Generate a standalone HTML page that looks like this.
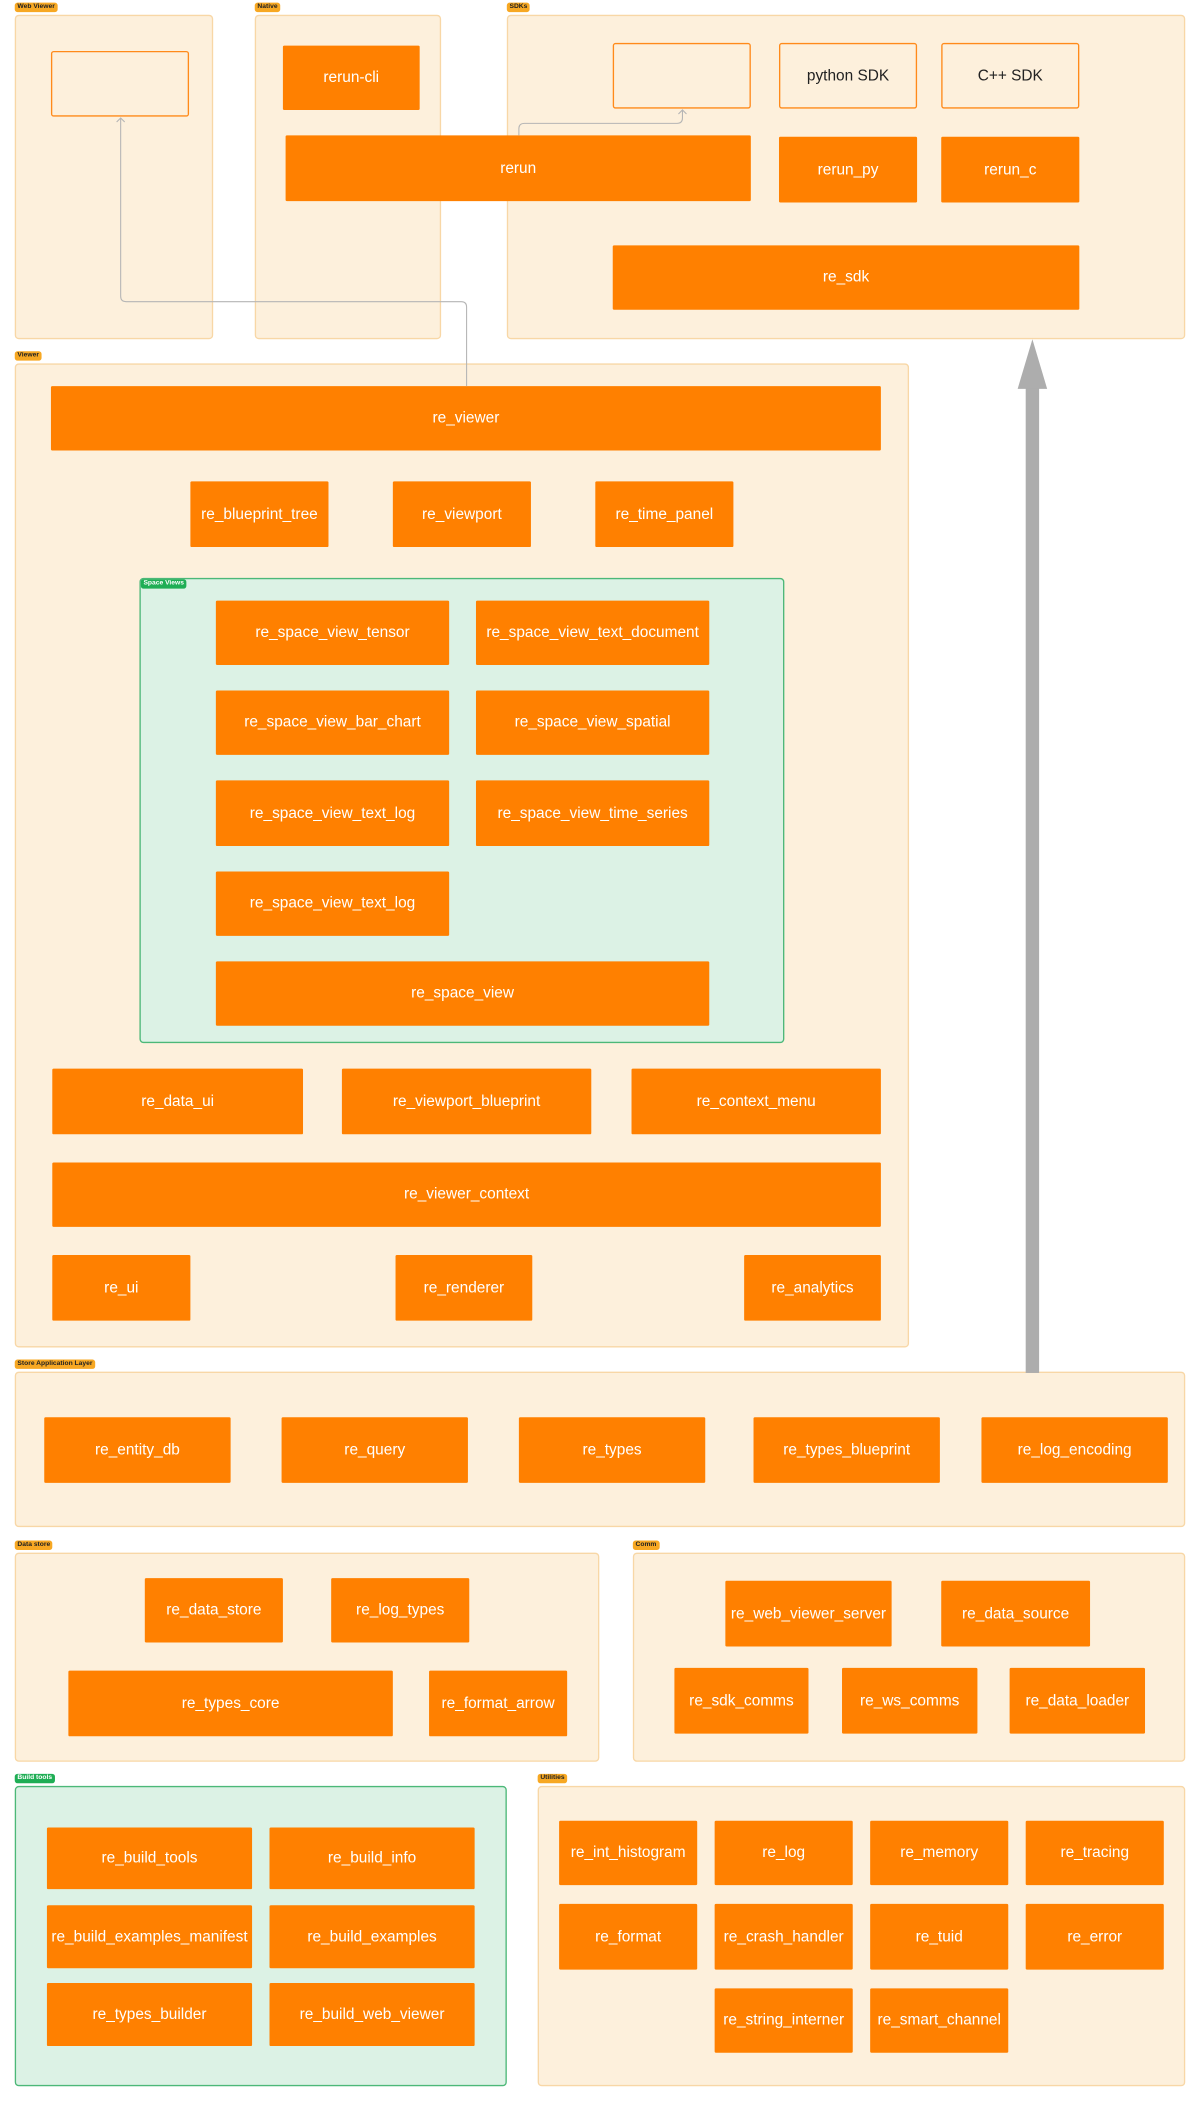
<!DOCTYPE html>
<html><head><meta charset="utf-8"><style>
html,body{margin:0;padding:0;background:#fff;width:1200px;height:2100px;overflow:hidden}
#w{position:absolute;left:0;top:0;width:895px;height:1568px;transform:scale(1.34078);transform-origin:0 0;font-family:"Liberation Sans",sans-serif}
.f{position:absolute;background:#fdf0dc;border:1px solid #f8d7a6;border-radius:3px;box-sizing:border-box}
.g{background:#dcf2e5;border:1px solid #4cb878}
.l{position:absolute;background:#f7a823;color:#222;font-size:5px;line-height:7px;padding:0 2px;border-radius:2px;font-weight:bold}
.lg{background:#1fae55;color:#fff}
.b{position:absolute;background:#ff8000;color:#fff;font-size:11.5px;display:flex;align-items:center;justify-content:center;border-radius:1px;white-space:nowrap}
.o{position:absolute;border:1.3px solid #ff8a1a;box-sizing:border-box;border-radius:2px;color:#222;font-size:11.5px;display:flex;align-items:center;justify-content:center;background:#fdf0dc}
</style></head><body><div id="w">
<div class="l" style="left:11px;top:2px">Web Viewer</div>
<div class="f" style="left:11px;top:11px;width:148px;height:242px"></div>
<div class="o" style="left:38px;top:38px;width:103px;height:49px"></div>
<div class="l" style="left:190px;top:2px">Native</div>
<div class="f" style="left:190px;top:11px;width:139px;height:242px"></div>
<div class="b" style="left:211px;top:34px;width:102px;height:48px">rerun-cli</div>
<div class="l" style="left:378px;top:2px">SDKs</div>
<div class="f" style="left:378px;top:11px;width:506px;height:242px"></div>
<div class="o" style="left:457px;top:32px;width:103px;height:49px"></div>
<div class="o" style="left:581px;top:32px;width:103px;height:49px">python SDK</div>
<div class="o" style="left:702px;top:32px;width:103px;height:49px">C++ SDK</div>
<div class="b" style="left:213px;top:101px;width:347px;height:49px">rerun</div>
<div class="b" style="left:581px;top:102px;width:103px;height:49px">rerun_py</div>
<div class="b" style="left:702px;top:102px;width:103px;height:49px">rerun_c</div>
<div class="b" style="left:457px;top:183px;width:348px;height:48px">re_sdk</div>

<div class="l" style="left:11px;top:262px">Viewer</div>
<div class="f" style="left:11px;top:271px;width:667px;height:734px"></div>
<div class="b" style="left:38px;top:288px;width:619px;height:48px">re_viewer</div>
<div class="b" style="left:142px;top:359px;width:103px;height:49px">re_blueprint_tree</div>
<div class="b" style="left:293px;top:359px;width:103px;height:49px">re_viewport</div>
<div class="b" style="left:444px;top:359px;width:103px;height:49px">re_time_panel</div>
<div class="f g" style="left:104px;top:431px;width:481px;height:347px"></div>
<div class="l lg" style="left:105px;top:432px">Space Views</div>
<div class="b" style="left:161px;top:448px;width:174px;height:48px">re_space_view_tensor</div>
<div class="b" style="left:355px;top:448px;width:174px;height:48px">re_space_view_text_document</div>
<div class="b" style="left:161px;top:515px;width:174px;height:48px">re_space_view_bar_chart</div>
<div class="b" style="left:355px;top:515px;width:174px;height:48px">re_space_view_spatial</div>
<div class="b" style="left:161px;top:582px;width:174px;height:49px">re_space_view_text_log</div>
<div class="b" style="left:355px;top:582px;width:174px;height:49px">re_space_view_time_series</div>
<div class="b" style="left:161px;top:650px;width:174px;height:48px">re_space_view_text_log</div>
<div class="b" style="left:161px;top:717px;width:368px;height:48px">re_space_view</div>
<div class="b" style="left:39px;top:797px;width:187px;height:49px">re_data_ui</div>
<div class="b" style="left:255px;top:797px;width:186px;height:49px">re_viewport_blueprint</div>
<div class="b" style="left:471px;top:797px;width:186px;height:49px">re_context_menu</div>
<div class="b" style="left:39px;top:867px;width:618px;height:48px">re_viewer_context</div>
<div class="b" style="left:39px;top:936px;width:103px;height:49px">re_ui</div>
<div class="b" style="left:295px;top:936px;width:102px;height:49px">re_renderer</div>
<div class="b" style="left:555px;top:936px;width:102px;height:49px">re_analytics</div>

<div class="l" style="left:11px;top:1014px">Store Application Layer</div>
<div class="f" style="left:11px;top:1023px;width:873px;height:116px"></div>
<div class="b" style="left:33px;top:1057px;width:139px;height:49px">re_entity_db</div>
<div class="b" style="left:210px;top:1057px;width:139px;height:49px">re_query</div>
<div class="b" style="left:387px;top:1057px;width:139px;height:49px">re_types</div>
<div class="b" style="left:562px;top:1057px;width:139px;height:49px">re_types_blueprint</div>
<div class="b" style="left:732px;top:1057px;width:139px;height:49px">re_log_encoding</div>

<div class="l" style="left:11px;top:1149px">Data store</div>
<div class="f" style="left:11px;top:1158px;width:436px;height:156px"></div>
<div class="b" style="left:108px;top:1177px;width:103px;height:48px">re_data_store</div>
<div class="b" style="left:247px;top:1177px;width:103px;height:48px">re_log_types</div>
<div class="b" style="left:51px;top:1246px;width:242px;height:49px">re_types_core</div>
<div class="b" style="left:320px;top:1246px;width:103px;height:49px">re_format_arrow</div>

<div class="l" style="left:472px;top:1149px">Comm</div>
<div class="f" style="left:472px;top:1158px;width:412px;height:156px"></div>
<div class="b" style="left:541px;top:1179px;width:124px;height:49px">re_web_viewer_server</div>
<div class="b" style="left:702px;top:1179px;width:111px;height:49px">re_data_source</div>
<div class="b" style="left:503px;top:1244px;width:100px;height:49px">re_sdk_comms</div>
<div class="b" style="left:628px;top:1244px;width:101px;height:49px">re_ws_comms</div>
<div class="b" style="left:753px;top:1244px;width:101px;height:49px">re_data_loader</div>

<div class="l lg" style="left:11px;top:1323px">Build tools</div>
<div class="f g" style="left:11px;top:1332px;width:367px;height:224px"></div>
<div class="b" style="left:35px;top:1363px;width:153px;height:46px">re_build_tools</div>
<div class="b" style="left:201px;top:1363px;width:153px;height:46px">re_build_info</div>
<div class="b" style="left:35px;top:1421px;width:153px;height:47px">re_build_examples_manifest</div>
<div class="b" style="left:201px;top:1421px;width:153px;height:47px">re_build_examples</div>
<div class="b" style="left:35px;top:1479px;width:153px;height:47px">re_types_builder</div>
<div class="b" style="left:201px;top:1479px;width:153px;height:47px">re_build_web_viewer</div>

<div class="l" style="left:401px;top:1323px">Utilities</div>
<div class="f" style="left:401px;top:1332px;width:483px;height:224px"></div>
<div class="b" style="left:417px;top:1358px;width:103px;height:48px">re_int_histogram</div>
<div class="b" style="left:533px;top:1358px;width:103px;height:48px">re_log</div>
<div class="b" style="left:649px;top:1358px;width:103px;height:48px">re_memory</div>
<div class="b" style="left:765px;top:1358px;width:103px;height:48px">re_tracing</div>
<div class="b" style="left:417px;top:1420px;width:103px;height:49px">re_format</div>
<div class="b" style="left:533px;top:1420px;width:103px;height:49px">re_crash_handler</div>
<div class="b" style="left:649px;top:1420px;width:103px;height:49px">re_tuid</div>
<div class="b" style="left:765px;top:1420px;width:103px;height:49px">re_error</div>
<div class="b" style="left:533px;top:1483px;width:103px;height:48px">re_string_interner</div>
<div class="b" style="left:649px;top:1483px;width:103px;height:48px">re_smart_channel</div>

<svg style="position:absolute;left:0;top:0" width="895" height="1568">
<g fill="none" stroke="#b5b5b5" stroke-width="0.8">
<path d="M387 101 V96 Q387 92 391 92 H505 Q509 92 509 88 V82"/>
<path d="M506 85 L509 82 L512 85"/>
<path d="M348 288 V229 Q348 225 344 225 H94 Q90 225 90 221 V88"/>
<path d="M87 91 L90 88 L93 91"/>
</g>
<rect x="765" y="288" width="10" height="736" fill="#adadad"/>
<polygon points="759,290 770,253 781,290" fill="#adadad"/>
</svg>
</div></body></html>
